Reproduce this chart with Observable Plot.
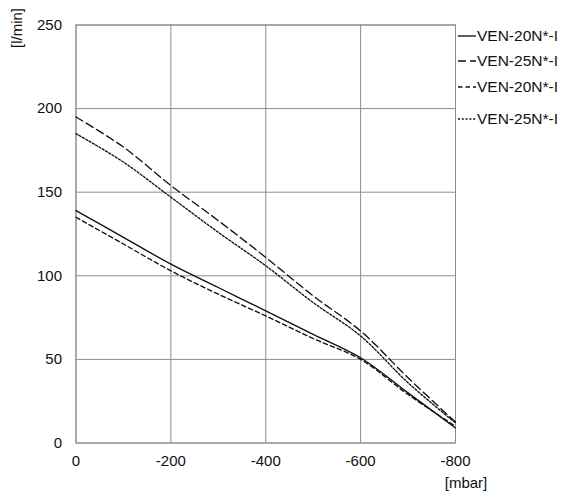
<!DOCTYPE html>
<html>
<head>
<meta charset="utf-8">
<script src="https://cdn.jsdelivr.net/npm/d3@7"></script>
<script src="https://cdn.jsdelivr.net/npm/@observablehq/plot@0.6"></script>
<style>
  html, body { margin: 0; padding: 0; background: #fff; }
  #wrap { position: relative; width: 562px; height: 499px; font-family: "Liberation Sans", Arial, sans-serif; }
  #legend { position: absolute; left: 457px; top: 0; font-size: 15.5px; color: #111; }
  .row { position: absolute; left: 0; display: flex; align-items: center; white-space: nowrap; height: 20px; }
  .row svg { margin-right: 1px; }
</style>
</head>
<body>
<div id="wrap"></div>
<script>
const pressure = [0, -100, -200, -300, -400, -500, -600, -700, -800];
const ven20Solid = [139, 123, 107, 93, 79, 65, 51, 30, 9];
const ven25LongDash = [195, 177, 154, 133, 111, 88, 67, 39, 12.5];
const ven20Dash = [135, 119, 103, 89, 76, 62.5, 50, 29, 10];
const ven25ShortDash = [185, 168, 147, 126, 106, 84, 64, 36, 12];

const seriesNames = ["VEN-20N*-I", "VEN-25N*-I", "VEN-20N*-I", "VEN-25N*-I"];
const seriesValues = [ven20Solid, ven25LongDash, ven20Dash, ven25ShortDash];
const seriesDash = [null, "8,4", "4.5,3", "2,1.8"];

const yTicks = [0, 50, 100, 150, 200, 250];
const xTicks = [0, -200, -400, -600, -800];
const yLabel = "[l/min]";
const xLabel = "[mbar]";

const rows = [];
seriesValues.forEach((vals, i) => {
  vals.forEach((v, j) => rows.push({ s: i, x: pressure[j], y: v }));
});

const plot = Plot.plot({
  width: 562,
  height: 499,
  marginLeft: 75.5,
  marginRight: 107,
  marginTop: 24.5,
  marginBottom: 56.5,
  style: { fontFamily: "Liberation Sans, Arial, sans-serif", fontSize: "15px", color: "#111", background: "#fff" },
  x: { domain: [0, -800] },
  y: { domain: [0, 250] },
  marks: [
    Plot.ruleY(yTicks, { stroke: "#8c8c8c", strokeWidth: 1, strokeOpacity: 1 }),
    Plot.ruleX(xTicks, { stroke: "#8c8c8c", strokeWidth: 1, strokeOpacity: 1 }),
    Plot.frame({ stroke: "#8c8c8c", strokeWidth: 1 }),
    ...seriesValues.map((vals, i) =>
      Plot.line(rows.filter(d => d.s === i), {
        x: "x", y: "y", curve: "catmull-rom",
        stroke: "#111", strokeWidth: 1.35,
        strokeDasharray: seriesDash[i] || undefined
      })
    ),
    Plot.axisY(yTicks, { tickSize: 0, tickPadding: 14, label: null, fontSize: 15 }),
    Plot.axisX(xTicks, { tickSize: 0, tickPadding: 12, label: null, fontSize: 15, tickFormat: d => (d < 0 ? "-" + Math.abs(d) : String(d)) })
  ]
});

const wrap = document.getElementById("wrap");
wrap.appendChild(plot);

const svg = d3.select(plot);
svg.append("text")
  .attr("transform", "translate(22,28) rotate(-90)")
  .attr("text-anchor", "middle")
  .attr("font-size", 15)
  .attr("fill", "#111")
  .text(yLabel);
svg.append("text")
  .attr("x", 466)
  .attr("y", 488)
  .attr("text-anchor", "middle")
  .attr("font-size", 15)
  .attr("fill", "#111")
  .text(xLabel);

const legend = document.createElement("div");
legend.id = "legend";
const rowCenters = [36, 61, 87, 119];
seriesNames.forEach((name, i) => {
  const row = document.createElement("div");
  row.className = "row";
  row.style.top = (rowCenters[i] - 10) + "px";
  const ns = "http://www.w3.org/2000/svg";
  const s = document.createElementNS(ns, "svg");
  s.setAttribute("width", 19);
  s.setAttribute("height", 20);
  const l = document.createElementNS(ns, "line");
  l.setAttribute("x1", 1); l.setAttribute("x2", 19);
  l.setAttribute("y1", 10); l.setAttribute("y2", 10);
  l.setAttribute("stroke", "#111");
  l.setAttribute("stroke-width", 1.35);
  if (seriesDash[i]) l.setAttribute("stroke-dasharray", seriesDash[i]);
  s.appendChild(l);
  row.appendChild(s);
  const t = document.createElement("span");
  t.textContent = name;
  row.appendChild(t);
  legend.appendChild(row);
});
wrap.appendChild(legend);
</script>
</body>
</html>
